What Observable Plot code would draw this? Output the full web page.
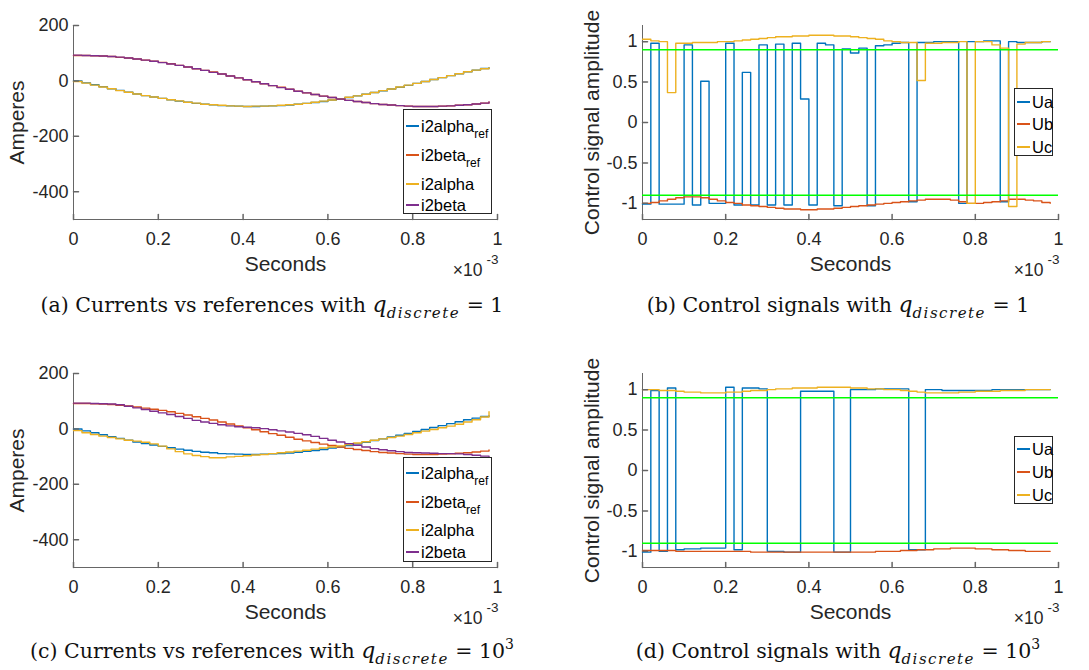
<!DOCTYPE html>
<html><head><meta charset="utf-8">
<script src="https://cdn.jsdelivr.net/npm/d3@7"></script>
<script src="https://cdn.jsdelivr.net/npm/@observablehq/plot@0.6"></script>
<style>
body{margin:0;background:#fff;}
#root{position:relative;width:1089px;height:670px;overflow:hidden;background:#fff;font-family:"Liberation Sans",Arial,sans-serif;color:#262626;}
.panel{position:absolute;}
.legend{position:absolute;background:#fff;border:1px solid #262626;box-sizing:border-box;}
.sw{position:absolute;left:2px;width:13px;height:2px;}
.lt{position:absolute;left:17px;font-size:16.5px;line-height:1;white-space:nowrap;transform:translateY(-50%);color:#000;}
.lt .sb{font-size:12px;position:relative;top:6px;}
.cap{position:absolute;width:600px;text-align:center;font-family:"DejaVu Serif",serif;font-size:20.5px;line-height:24px;color:#111;white-space:nowrap;}
.cap .q{font-style:italic;font-size:22px;}
.cap .sub{font-style:italic;font-size:15px;position:relative;top:6px;letter-spacing:1.5px;}
.cap .sup{font-size:14px;position:relative;top:-9px;}
</style></head>
<body><div id="root"></div>
<script>
// ---------- data ----------
const t = [0,0.02,0.04,0.06,0.08,0.1,0.12,0.14,0.16,0.18,0.2,0.22,0.24,0.26,0.28,0.3,0.32,0.34,0.36,0.38,0.4,0.42,0.44,0.46,0.48,0.5,0.52,0.54,0.56,0.58,0.6,0.62,0.64,0.66,0.68,0.7,0.72,0.74,0.76,0.78,0.8,0.82,0.84,0.86,0.88,0.9,0.92,0.94,0.96,0.98];
const xTicks = [0,0.2,0.4,0.6,0.8,1];
const ampTicks = [-400,-200,0,200];
const ctrlTicks = [-1,-0.5,0,0.5,1];
const ampDomain = [-500,200];
const ctrlDomain = [-1.2,1.2];
const thresholds = [0.9,-0.9];

// references (same in a and c)
const i2alphaRef = [0,-7,-14,-21,-28,-34,-41,-47,-53,-58,-63,-68,-73,-77,-81,-84,-86,-89,-90,-91,-92,-92,-91,-90,-89,-87,-84,-81,-78,-74,-69,-65,-60,-54,-48,-42,-36,-29,-23,-16,-9,-2,5,12,19,26,33,39,45,48];
const i2betaRef = [92,92,91,90,88,85,83,79,75,71,67,62,56,50,44,38,32,25,18,11,4,-3,-10,-17,-23,-30,-37,-43,-49,-55,-60,-65,-70,-74,-78,-82,-85,-87,-89,-91,-92,-92,-92,-91,-90,-88,-86,-83,-80,-76];
// (a) q = 1
const i2alphaA = [-2,-8,-15,-22,-28,-35,-41,-47,-53,-58,-63,-68,-72,-77,-80,-84,-86,-88,-90,-91,-92,-91,-91,-90,-88,-86,-84,-81,-77,-73,-69,-64,-59,-54,-48,-42,-35,-29,-22,-15,-9,-2,5,12,19,26,33,39,44,48];
const i2betaA = [93,92,91,90,88,86,83,79,75,71,66,61,56,50,44,38,31,25,18,11,4,-3,-10,-17,-24,-30,-37,-43,-49,-55,-60,-65,-70,-74,-78,-82,-85,-87,-89,-91,-92,-92,-92,-91,-90,-88,-86,-83,-80,-76];
// (c) q = 1e3
const i2alphaC = [-6,-14,-20,-26,-31,-36,-41,-44,-48,-54,-62,-72,-82,-90,-96,-100,-104,-104,-101,-99,-97,-94,-92,-89,-86,-83,-80,-77,-73,-69,-65,-61,-56,-51,-46,-41,-36,-31,-26,-20,-14,-8,-2,4,10,17,25,33,43,62];
const i2betaC = [93,93,92,91,90,87,82,76,70,64,58,52,45,38,31,25,20,15,11,8,6,4,1,-3,-7,-11,-16,-21,-27,-34,-41,-47,-53,-59,-65,-71,-75,-79,-82,-85,-86,-87,-88,-89,-89,-90,-92,-95,-98,-101];
// (b) control signals q = 1
const UaB = [-1.01,0.98,-1.01,-1.01,-1.01,0.96,-1.02,0.51,-1.0,-1.0,0.98,-1.02,0.62,-1.02,0.96,-1.02,0.97,-1.02,0.98,0.29,-1.02,0.98,0.96,-1.03,0.91,0.86,0.92,-1.03,0.95,0.96,0.98,0.99,-0.98,0.99,0.99,1.0,1.0,1.0,-1.0,1.0,1.0,1.01,1.01,-0.98,1.0,0.99,0.99,0.99,1.0,1.0];
const UbB = [-1.0,-0.99,-0.97,-0.95,-0.93,-0.92,-0.92,-0.93,-0.95,-0.97,-0.99,-1.0,-1.02,-1.03,-1.04,-1.05,-1.06,-1.07,-1.07,-1.08,-1.08,-1.07,-1.07,-1.06,-1.05,-1.04,-1.03,-1.02,-1.01,-1.0,-0.99,-0.98,-0.97,-0.96,-0.95,-0.95,-0.95,-0.96,-0.98,-1.0,-1.0,-0.99,-0.98,-0.97,-0.95,-0.95,-0.96,-0.97,-0.99,-1.0];
const UcB = [1.03,1.01,1.0,0.37,0.98,0.98,0.99,0.99,0.99,1.0,1.0,1.01,1.02,1.03,1.04,1.05,1.06,1.06,1.07,1.07,1.08,1.08,1.08,1.07,1.07,1.06,1.05,1.04,1.03,1.01,1.0,0.99,0.99,0.52,0.98,0.98,0.99,0.99,1.0,-1.0,1.0,1.0,0.96,0.92,-1.04,0.97,0.99,0.99,1.0,1.0];
// (d) control signals q = 1e3
const UaD = [-1.01,0.99,-1.0,1.02,-0.98,-0.97,-0.97,-0.96,-0.96,-0.96,1.03,-0.98,1.02,1.02,1.01,-1.0,-1.0,-1.01,-1.01,0.98,0.98,0.98,0.98,-1.01,-1.01,1.0,1.0,1.0,1.01,1.01,1.01,1.01,-0.98,-0.98,1.0,1.0,0.99,0.99,0.99,0.99,0.99,0.99,1.0,1.0,1.0,1.0,1.0,1.0,1.0,1.0];
const UbD = [-0.99,-0.99,-0.99,-0.99,-1.0,-1.0,-1.0,-1.0,-1.0,-1.0,-1.0,-1.0,-1.0,-1.01,-1.01,-1.01,-1.01,-1.01,-1.01,-1.01,-1.01,-1.01,-1.01,-1.01,-1.01,-1.01,-1.01,-1.01,-1.0,-1.0,-1.0,-0.99,-0.99,-0.98,-0.98,-0.97,-0.97,-0.96,-0.96,-0.96,-0.97,-0.97,-0.98,-0.98,-0.99,-0.99,-1.0,-1.0,-1.0,-1.0];
const UcD = [1.0,1.0,0.99,0.99,0.98,0.97,0.97,0.96,0.96,0.96,0.97,0.97,0.98,0.99,0.99,1.0,1.01,1.01,1.02,1.02,1.02,1.03,1.03,1.03,1.03,1.02,1.02,1.01,1.01,1.0,1.0,0.99,0.98,0.97,0.96,0.96,0.96,0.96,0.97,0.97,0.98,0.98,0.98,0.99,0.99,0.99,1.0,1.0,1.0,1.0];

const C = {blue:"#0072BD", orange:"#D95319", yellow:"#EDB120", purple:"#7E2F8E", green:"#00FF00"};
const axisColor = "#666";
const textColor = "#262626";

const tickShape = {draw(ctx, l){ ctx.moveTo(0,0); ctx.lineTo(0,-l); }};

function panel(o){
  const marks = [];
  marks.push(Plot.ruleX([0], {stroke: axisColor, strokeWidth: 1}));
  marks.push(Plot.ruleY([o.yDomain[0]], {stroke: axisColor, strokeWidth: 1}));
  for (const s of o.series) {
    const rows = t.map((tt, i) => ({t: tt, v: s.values[i]}));
    marks.push(Plot.line(rows, {x: "t", y: "v", curve: "step-after", stroke: s.color, strokeWidth: 1.4}));
  }
  if (o.thresholds) marks.push(Plot.ruleY(o.thresholds, {stroke: C.green, strokeWidth: 1.6}));
  marks.push(Plot.vector(xTicks, {x: d => d, y: o.yDomain[0], length: 5, rotate: 0, anchor: "start", shape: tickShape, stroke: axisColor}));
  marks.push(Plot.vector(o.yTicks, {x: 0, y: d => d, length: 5, rotate: 90, anchor: "start", shape: tickShape, stroke: axisColor}));
  marks.push(Plot.axisX(xTicks, {tickSize: 0, tickPadding: 13, tickFormat: d => String(d), label: null, fontSize: 18, color: textColor}));
  marks.push(Plot.axisY(o.yTicks, {tickSize: 0, tickPadding: 5, tickFormat: d => String(d), label: null, fontSize: 18, color: textColor}));
  marks.push(Plot.text([o.yLabel], {text: d => d, frameAnchor: "left", textAnchor: "middle", lineAnchor: "middle", rotate: -90, dx: o.yLabelDx, fontSize: 21, fill: textColor}));
  marks.push(Plot.text(["Seconds"], {text: d => d, frameAnchor: "bottom", textAnchor: "middle", lineAnchor: "middle", dy: 45, fontSize: 21, fill: textColor}));
  marks.push(Plot.text(["×10"], {text: d => d, frameAnchor: "bottom-right", textAnchor: "end", lineAnchor: "middle", dx: -15, dy: 51, fontSize: 17.5, fill: textColor}));
  marks.push(Plot.text(["-3"], {text: d => d, frameAnchor: "bottom-right", textAnchor: "end", lineAnchor: "middle", dx: 1, dy: 40, fontSize: 13.5, fill: textColor}));
  const svg = Plot.plot({
    width: o.width, height: 290,
    marginLeft: o.ml, marginRight: o.mr, marginTop: 25, marginBottom: 71,
    x: {domain: [0, 1]},
    y: {domain: o.yDomain},
    style: {fontFamily: "'Liberation Sans', Arial, sans-serif", fontSize: "18px", background: "transparent", overflow: "visible", color: textColor},
    marks
  });
  const wrap = document.createElement("div");
  wrap.className = "panel";
  wrap.style.left = o.left + "px";
  wrap.style.top = o.top + "px";
  wrap.appendChild(svg);
  return wrap;
}

function legend(o){
  const box = document.createElement("div");
  box.className = "legend";
  Object.assign(box.style, {left: o.left + "px", top: o.top + "px", width: o.w + "px", height: o.h + "px"});
  o.items.forEach((it, i) => {
    const sw = document.createElement("div");
    sw.className = "sw";
    sw.style.top = (o.rows[i] - 1) + "px";
    sw.style.background = it.color;
    if (it.thin) sw.style.height = "1.5px";
    box.appendChild(sw);
    const tx = document.createElement("div");
    tx.className = "lt";
    tx.style.top = o.rows[i] + "px";
    tx.innerHTML = it.label + (it.sub ? `<span class="sb">${it.sub}</span>` : "");
    box.appendChild(tx);
  });
  return box;
}

function caption(html, cx, top){
  const d = document.createElement("div");
  d.className = "cap";
  d.style.left = (cx - 300) + "px";
  d.style.top = top + "px";
  d.innerHTML = html;
  return d;
}

const root = document.getElementById("root");
const curItems = [
  {label: "i2alpha", sub: "ref", color: C.blue},
  {label: "i2beta", sub: "ref", color: C.orange},
  {label: "i2alpha", color: C.yellow},
  {label: "i2beta", color: C.purple}
];
const ctrlItems = [
  {label: "Ua", color: C.blue},
  {label: "Ub", color: C.orange},
  {label: "Uc", color: C.yellow}
];

// (a)
root.appendChild(panel({left: 0, top: 0, width: 545, ml: 73, mr: 48, yDomain: ampDomain, yTicks: ampTicks, yLabel: "Amperes", yLabelDx: -56,
  series: [{values: i2alphaRef, color: C.blue}, {values: i2betaRef, color: C.orange}, {values: i2alphaA, color: C.yellow}, {values: i2betaA, color: C.purple}]}));
// (b)
root.appendChild(panel({left: 545, top: 0, width: 544, ml: 97, mr: 31, yDomain: ctrlDomain, yTicks: ctrlTicks, yLabel: "Control signal amplitude", yLabelDx: -50, thresholds,
  series: [{values: UaB, color: C.blue}, {values: UbB, color: C.orange}, {values: UcB, color: C.yellow}]}));
// (c)
root.appendChild(panel({left: 0, top: 348, width: 545, ml: 73, mr: 48, yDomain: ampDomain, yTicks: ampTicks, yLabel: "Amperes", yLabelDx: -56,
  series: [{values: i2alphaRef, color: C.blue}, {values: i2betaRef, color: C.orange}, {values: i2alphaC, color: C.yellow}, {values: i2betaC, color: C.purple}]}));
// (d)
root.appendChild(panel({left: 545, top: 348, width: 544, ml: 97, mr: 31, yDomain: ctrlDomain, yTicks: ctrlTicks, yLabel: "Control signal amplitude", yLabelDx: -50, thresholds,
  series: [{values: UaD, color: C.blue}, {values: UbD, color: C.orange}, {values: UcD, color: C.yellow}]}));

root.appendChild(legend({left: 403, top: 109, w: 89, h: 105, rows: [16, 45, 74, 95], items: curItems}));
root.appendChild(legend({left: 1014, top: 88, w: 39, h: 68, rows: [13, 35, 58], items: ctrlItems}));
root.appendChild(legend({left: 403, top: 457, w: 89, h: 105, rows: [15, 44, 72, 94], items: curItems}));
root.appendChild(legend({left: 1014, top: 436, w: 39, h: 68, rows: [12, 35, 58], items: ctrlItems.map((d, i) => i ? {...d, thin: true} : d)}));

root.appendChild(caption('(a) Currents vs references with <span class="q">q</span><span class="sub">discrete</span> = 1', 272, 293));
root.appendChild(caption('(b) Control signals with <span class="q">q</span><span class="sub">discrete</span> = 1', 838, 293));
root.appendChild(caption('(c) Currents vs references with <span class="q">q</span><span class="sub">discrete</span> = 10<span class="sup">3</span>', 272, 639));
root.appendChild(caption('(d) Control signals with <span class="q">q</span><span class="sub">discrete</span> = 10<span class="sup">3</span>', 838, 639));
</script>
</body></html>
